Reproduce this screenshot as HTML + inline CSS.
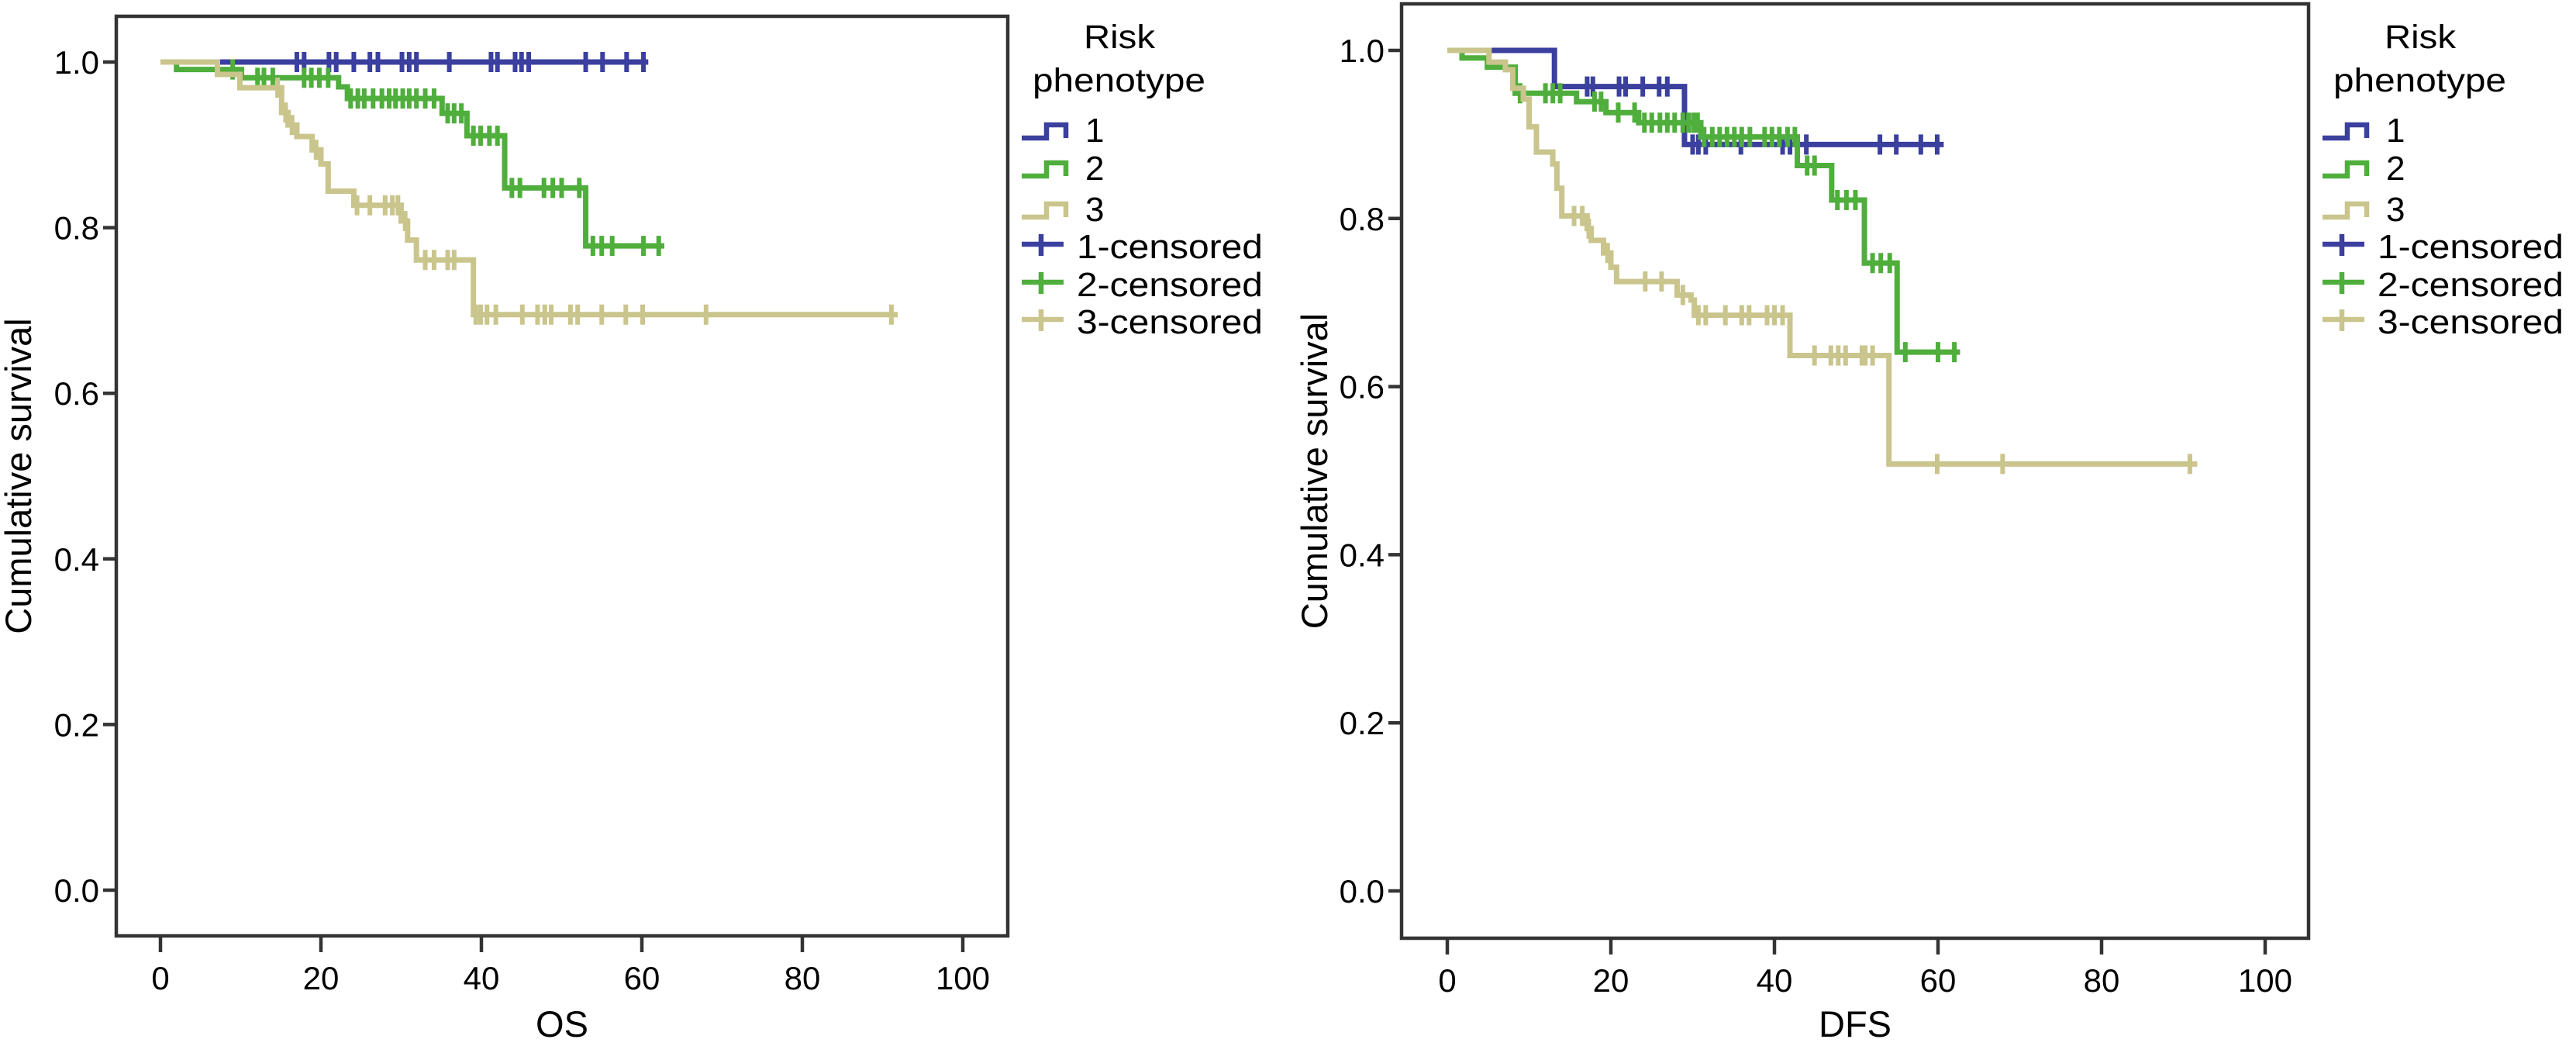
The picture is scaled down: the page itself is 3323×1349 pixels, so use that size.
<!DOCTYPE html>
<html><head><meta charset="utf-8"><style>
html,body{margin:0;padding:0;background:#fff;}
svg{display:block;}
text{font-family:"Liberation Sans",Arial,sans-serif;fill:#000;}
</style></head><body>
<svg id="chart" width="3323" height="1349" viewBox="0 0 3323 1349" xmlns="http://www.w3.org/2000/svg"></svg>
<script>
// ---- data: OS panel ----
const xTicks = [0, 20, 40, 60, 80, 100];
const yTicks = [0.0, 0.2, 0.4, 0.6, 0.8, 1.0];
const yTickLabels = ["0.0", "0.2", "0.4", "0.6", "0.8", "1.0"];
const legendLabels = ["1", "2", "3", "1-censored", "2-censored", "3-censored"];

const os1DropT = [];
const os1DropS = [];
const os1Cens = [17.0,17.9,21.0,21.9,24.1,26.1,27.1,30.1,31.0,31.9,36.0,41.2,42.0,44.2,45.0,45.9,53.0,55.1,58.1,60.2];
const os1End = 60.8;
const os2DropT = [2.0,10.1,22.2,23.3,35.1,38.2,42.9,53.0];
const os2DropS = [0.991,0.981,0.970,0.956,0.938,0.911,0.848,0.778];
const os2Cens = [9.0,12.1,12.9,14.0,17.9,18.8,19.8,20.9,23.7,24.6,25.4,26.5,27.6,28.5,29.3,30.2,31.0,31.9,33.0,34.1,35.8,36.6,37.5,39.0,39.9,41.0,42.0,43.8,44.8,47.8,48.9,50.0,52.2,53.9,55.0,56.3,60.2,62.1];
const os2End = 62.8;
const os3DropT = [7.1,9.9,15.1,15.9,17.0,18.9,20.0,20.9,24.1,30.0,30.8,31.9,39.0];
const os3DropS = [0.985,0.969,0.939,0.924,0.910,0.894,0.877,0.844,0.827,0.808,0.785,0.761,0.695];
const os3Cens = [14.6,15.6,16.4,19.4,24.5,26.1,28.0,28.9,29.6,30.5,33.0,34.1,35.8,36.6,39.3,39.9,40.7,41.8,45.1,47.0,47.9,48.7,51.1,52.0,55.0,58.0,60.1,68.0,91.1];
const os3End = 91.9;

// ---- data: DFS panel ----
const d1DropT = [13.1,29.0];
const d1DropS = [0.957,0.888];
const d1Cens = [17.1,17.8,21.0,21.8,23.9,25.9,26.9,30.0,30.7,31.6,35.9,41.0,41.9,43.9,52.9,54.9,57.9,59.9];
const d1End = 60.7;
const d2DropT = [1.8,4.9,8.3,15.8,19.4,23.4,31.0,42.8,47.0,51.0,55.0];
const d2DropS = [0.991,0.980,0.949,0.939,0.926,0.914,0.897,0.863,0.822,0.747,0.641];
const d2Cens = [8.9,12.0,12.9,13.8,18.0,18.8,20.9,22.9,24.1,25.0,26.0,26.9,27.8,28.8,29.5,30.1,30.6,31.4,32.4,33.3,34.2,35.1,36.0,37.0,38.8,39.7,40.6,41.6,42.5,44.0,44.9,47.7,48.8,49.9,52.0,53.0,54.1,56.0,60.0,62.0];
const d2End = 62.7;
const d3DropT = [5.1,7.1,8.0,9.3,10.0,10.9,12.9,13.4,14.0,17.1,17.6,19.1,20.0,20.7,28.1,29.8,30.2,41.9,54.0];
const d3DropS = [0.986,0.977,0.955,0.942,0.909,0.879,0.865,0.836,0.803,0.788,0.774,0.759,0.742,0.725,0.709,0.703,0.685,0.637,0.508];
const d3Cens = [15.5,16.5,17.3,19.6,24.2,26.2,28.8,30.7,31.6,34.0,36.0,36.9,39.1,40.0,41.0,44.9,46.9,47.8,48.7,50.7,51.1,52.0,59.9,67.9,90.8];
const d3End = 91.7;

const COLORS = ["#3b3f9e", "#4fae3c", "#c9c58c"];
const NS = "http://www.w3.org/2000/svg";
const svg = document.getElementById("chart");

function mk(tag, attrs, parent) {
  const e = document.createElementNS(NS, tag);
  for (const k in attrs) e.setAttribute(k, attrs[k]);
  (parent || svg).appendChild(e);
  return e;
}

function survAt(t, dT, dS) {
  let s = 1;
  for (let i = 0; i < dT.length; i++) if (dT[i] <= t) s = dS[i];
  return s;
}

function drawPanel(p) {
  const g = mk("g", {});
  
  
  const X = t => p.x0 + t * p.xs;
  const Y = s => p.y0 - s * p.ys;

  const fr = mk("rect", {x: p.fl, y: p.ft, width: p.fr - p.fl, height: p.fb - p.ft, fill: "none", stroke: "#333", "stroke-width": 4.5}, g);
  
  

  yTicks.forEach((v, i) => {
    const tk = mk("line", {x1: p.fl - 17, x2: p.fl, y1: Y(v), y2: Y(v), stroke: "#333", "stroke-width": 4.5}, g);
    
    
    const lb = mk("text", {x: p.fl - 22, y: Y(v) + 15, "font-size": 42, "text-anchor": "end"}, g);
    
    
    lb.textContent = yTickLabels[i];
  });
  xTicks.forEach(v => {
    const tk = mk("line", {x1: X(v), x2: X(v), y1: p.fb, y2: p.fb + 21, stroke: "#333", "stroke-width": 4.5}, g);
    
    
    const lb = mk("text", {x: X(v), y: p.fb + 69, "font-size": 42, "text-anchor": "middle"}, g);
    
    
    lb.textContent = String(v);
  });
  const xt = mk("text", {x: (p.fl + p.fr) / 2, y: 1337, "font-size": 47, "text-anchor": "middle"}, g);
  
  
  xt.textContent = p.xTitle;
  const cy = (p.ft + p.fb) / 2;
  const yt = mk("text", {x: p.ytx, y: cy, "font-size": 47, "text-anchor": "middle", transform: `rotate(-90 ${p.ytx} ${cy})`}, g);
  
  
  yt.textContent = "Cumulative survival";

  p.series.forEach((s, k) => {
    let d = `M${X(0)},${Y(1)}`;
    for (let i = 0; i < s.dT.length; i++) d += ` H${X(s.dT[i])} V${Y(s.dS[i])}`;
    d += ` H${X(s.end)}`;
    const path = mk("path", {d: d, fill: "none", stroke: COLORS[k], "stroke-width": 7}, g);
    
    
    s.cens.forEach(t => {
      const cx = X(t), yy = Y(survAt(t, s.dT, s.dS));
      const c = mk("line", {x1: cx, x2: cx, y1: yy - 13, y2: yy + 13, stroke: COLORS[k], "stroke-width": 6}, g);
      
      
    });
  });

  const lx = p.fr + 18, ly = p.ly;
  const lg = mk("g", {}, g);
  
  
  const t1 = mk("text", {x: lx + 80, y: ly + 62, "font-size": 43, textLength: 92, lengthAdjust: "spacingAndGlyphs"}, lg);
  
  
  t1.textContent = "Risk";
  const t2 = mk("text", {x: lx + 14, y: ly + 118, "font-size": 43, textLength: 223, lengthAdjust: "spacingAndGlyphs"}, lg);
  
  
  t2.textContent = "phenotype";
  const rowsY = [183, 232, 285, 333, 382, 430];
  legendLabels.forEach((lab, i) => {
    const by = ly + rowsY[i];
    const col = COLORS[i % 3];
    if (i < 3) {
      const ic = mk("path", {d: `M${lx},${by - 5} H${lx + 32} V${by - 22} H${lx + 57} V${by - 5}`, fill: "none", stroke: col, "stroke-width": 6.5}, lg);
      
      
    } else {
      const ic = mk("path", {d: `M${lx},${by - 18} H${lx + 54} M${lx + 25},${by - 31} V${by - 3}`, fill: "none", stroke: col, "stroke-width": 6.5}, lg);
      
      
    }
    const attrs = {x: lx + (i < 3 ? 82 : 71), y: by, "font-size": 44};
    if (i >= 3) { attrs.textLength = 240; attrs.lengthAdjust = "spacingAndGlyphs"; }
    const tx = mk("text", attrs, lg);
    
    
    tx.textContent = lab;
  });
}

drawPanel({
  name: "os", xTitle: "OS", fl: 150, ft: 21, fr: 1300, fb: 1207,
  x0: 207, xs: 10.35, y0: 1148, ys: 1068, ytx: 40, ly: 0,
  series: [
    {dT: os1DropT, dS: os1DropS, cens: os1Cens, end: os1End},
    {dT: os2DropT, dS: os2DropS, cens: os2Cens, end: os2End},
    {dT: os3DropT, dS: os3DropS, cens: os3Cens, end: os3End}
  ]
});
drawPanel({
  name: "dfs", xTitle: "DFS", fl: 1808, ft: 5, fr: 2978, fb: 1210,
  x0: 1867, xs: 10.55, y0: 1149, ys: 1084, ytx: 1712, ly: 0,
  series: [
    {dT: d1DropT, dS: d1DropS, cens: d1Cens, end: d1End},
    {dT: d2DropT, dS: d2DropS, cens: d2Cens, end: d2End},
    {dT: d3DropT, dS: d3DropS, cens: d3Cens, end: d3End}
  ]
});
</script>
</body></html>
